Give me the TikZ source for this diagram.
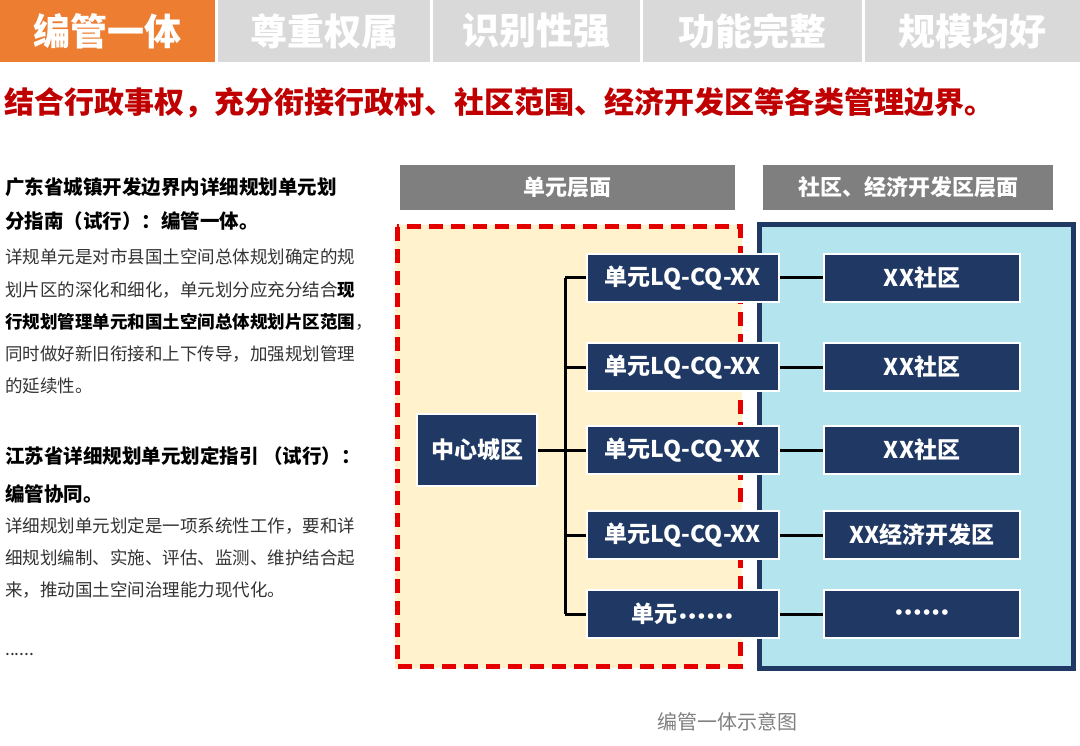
\documentclass[tikz,border=0pt]{standalone}
\usepackage{fontspec}
\setmainfont{Noto Sans CJK SC}
\newfontfamily\dotfont{DejaVu Sans}
\XeTeXlinebreaklocale "zh"
\begin{document}
\begin{tikzpicture}[x=1pt,y=-1pt,
  tab/.style={fill=#1,text=white,font=\fontsize{37}{37}\selectfont\bfseries,inner sep=0},
  hdr/.style={fill=hdrgray,text=white,font=\fontsize{22}{22}\selectfont\bfseries},
  nb/.style={fill=navy,draw=white,line width=2pt,text=white,font=\fontsize{23}{23}\selectfont\bfseries,inner sep=0},
  lk/.style={line width=3pt,black},
  bt/.style={anchor=west,font=\fontsize{19.5}{19.5}\selectfont\bfseries,inner sep=0},
  nt/.style={anchor=west,font=\fontsize{17.5}{17.5}\selectfont,inner sep=0,text=black!80}]
\definecolor{navy}{HTML}{1F3864}
\definecolor{hdrgray}{HTML}{7F7F7F}
\definecolor{tabgray}{HTML}{D9D9D9}
\definecolor{orng}{HTML}{ED7D31}
\definecolor{dred}{HTML}{C00000}
\newcommand\dd{{\dotfont\fontsize{16}{16}\selectfont\bfseries •\kern-1pt•\kern-1pt•\kern-1pt•\kern-1pt•\kern-1pt•}}
\useasboundingbox (0,0) rectangle (1080,746);
\fill[white] (0,0) rectangle (1080,746);
% tabs
\node[tab=orng,minimum width=215,minimum height=62] (t1) at (107.5,31) {编管一体};
\node[tab=tabgray,minimum width=212,minimum height=62] (t2) at (324,31) {尊重权属};
\node[tab=tabgray,minimum width=207,minimum height=62] (t3) at (536.5,31) {识别性强};
\node[tab=tabgray,minimum width=219,minimum height=62] (t4) at (752.5,31) {功能完整};
\node[tab=tabgray,minimum width=215,minimum height=62] (t5) at (972.5,31) {规模均好};
\node[anchor=west,inner sep=0,text=dred,font=\fontsize{30}{30}\selectfont\bfseries] (title) at (4,103) {结合行政事权，充分衔接行政村、社区范围、经济开发区等各类管理边界。};
% left text
\node[bt] (a1) at (5,187) {广东省城镇开发边界内详细规划单元划};
\node[bt] (a2) at (5,221) {分指南（试行）：编管一体。};
\node[nt] (a3) at (5,257) {详规单元是对市县国土空间总体规划确定的规};
\node[nt] (a4) at (5,290) {划片区的深化和细化，单元划分应充分结合\textbf{\color{black}现}};
\node[nt] (a5) at (5,322) {\textbf{\color{black}行规划管理单元和国土空间总体规划片区范围}，};
\node[nt] (a6) at (5,354) {同时做好新旧衔接和上下传导，加强规划管理};
\node[nt] (a7) at (5,386) {的延续性。};
\node[bt] (b1) at (5,456) {江苏省详细规划单元划定指引 （试行）：};
\node[bt] (b2) at (5,494) {编管协同。};
\node[nt] (b3) at (5,526) {详细规划单元划定是一项系统性工作，要和详};
\node[nt] (b4) at (5,558) {细规划编制、实施、评估、监测、维护结合起};
\node[nt] (b5) at (5,590) {来，推动国土空间治理能力现代化。};
\node[nt] (b6) at (5,655) {......};
% headers
\node[hdr,minimum width=335,minimum height=45,inner sep=0] (h1) at (567.5,187.5) {单元层面};
\node[hdr,minimum width=290,minimum height=45,inner sep=0] (h2) at (908,187.5) {社区、经济开发区层面};
% regions
\fill[fill={rgb,255:red,255;green,242;blue,204}] (395,225) rectangle (742,668);
\filldraw[fill={rgb,255:red,180;green,229;blue,239},draw=navy,line width=5pt] (759,225) rectangle (1073,668);
\draw[red!90!black,line width=5pt,dash pattern=on 14pt off 8pt] (397,227) rectangle (740,666);
% nodes
\node[nb,minimum width=120,minimum height=72] (c) at (477,450) {中心城区};
\foreach \i/\y/\u/\r in {1/278/单元LQ-CQ-XX/XX社区,2/367/单元LQ-CQ-XX/XX社区,3/450/单元LQ-CQ-XX/XX社区,4/535/单元LQ-CQ-XX/XX经济开发区,5/614/单元\dd/\dd}{
  \node[nb,minimum width=192,minimum height=48] (u\i) at (683,\y) {\u};
  \node[nb,minimum width=196,minimum height=48] (r\i) at (922,\y) {\r};
  \draw[lk] (u\i.east) -- (r\i.west);
}
\coordinate (tr) at (565,450);
\draw[lk] (c.east) -- (tr);
\foreach \i in {1,...,5}{\draw[lk] (tr|-u\i) -- (u\i.west);}
\draw[lk] (tr|-u1) -- (tr|-u5);
\node[text=black!50,font=\fontsize{20}{20}\selectfont,inner sep=0] (cap) at (727,722) {编管一体示意图};
\end{tikzpicture}
\end{document}
